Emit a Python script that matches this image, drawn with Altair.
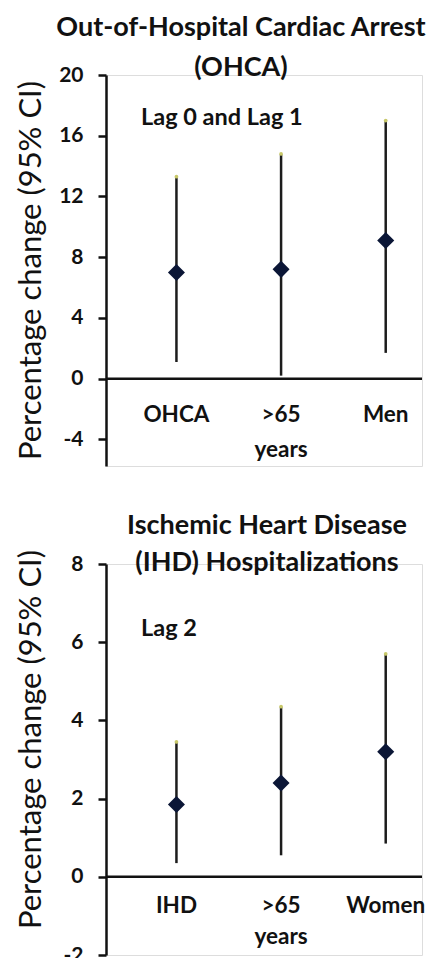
import altair as alt
import pandas as pd

# ---- data ----
top_cats = ["OHCA", ">65 years", "Men"]
top_est = [7.0, 7.2, 9.1]
top_lo = [1.1, 0.2, 1.7]
top_hi = [13.3, 14.8, 17.0]
top_ticks = [-4, 0, 4, 8, 12, 16, 20]

bot_cats = ["IHD", ">65 years", "Women"]
bot_est = [1.85, 2.4, 3.2]
bot_lo = [0.35, 0.55, 0.85]
bot_hi = [3.45, 4.35, 5.7]
bot_ticks = [-2, 0, 2, 4, 6, 8]

FONT = "Lato"
INK = "#111111"
W = 316
H = 391


def panel(cats, est, lo, hi, ticks, domain, title_lines, title_dx, title_offset,
          line_h, note, note_y, pad, align, title_y, lab_dy, lab_lh):
    df = pd.DataFrame({"cat": cats, "est": est, "lo": lo, "hi": hi})
    base = alt.Chart(df)
    x = alt.X("cat:N", sort=cats, axis=None,
              scale=alt.Scale(type="point", padding=pad, align=align))
    y_scale = alt.Scale(domain=domain, nice=False, zero=False)
    y_axis = alt.Axis(values=ticks, title="Percentage change (95% CI)",
                      titleFont=FONT, titleFontSize=31, titleFontWeight="normal",
                      titleColor=INK, titleX=-75, titleY=title_y,
                      titleBaseline="middle", titleAngle=270,
                      labelFont=FONT, labelFontSize=21, labelFontWeight="bold",
                      labelColor=INK, labelPadding=15, labelExpr="'' + datum.value",
                      tickSize=8, tickWidth=2.5, tickColor=INK,
                      domainWidth=2.5, domainColor=INK, grid=False)
    whisk = base.mark_rule(color="#1c1c1c", strokeWidth=2.5).encode(
        x=x, y=alt.Y("lo:Q", scale=y_scale, axis=y_axis), y2="hi:Q")
    caps = base.mark_point(shape="circle", filled=True, color="#c8c86a",
                           size=14, opacity=1).encode(x=x, y="hi:Q")
    dia = base.mark_point(shape="diamond", filled=True, color="#0b1636",
                          size=290, opacity=1).encode(x=x, y="est:Q")
    zero = alt.Chart(pd.DataFrame({"z": [0]})).mark_rule(
        color=INK, strokeWidth=2.5).encode(y="z:Q")
    labels = base.mark_text(font=FONT, fontSize=22.5, fontWeight="bold", color=INK,
                            baseline="top", dy=lab_dy, lineBreak=" ",
                            lineHeight=lab_lh).encode(x=x, y=alt.datum(0), text="cat:N")
    note_t = alt.Chart(pd.DataFrame({"t": [note]})).mark_text(
        font=FONT, fontSize=23.5, fontWeight="bold", color=INK, align="left",
        baseline="middle").encode(x=alt.value(35), y=alt.value(note_y), text="t:N")
    return alt.layer(whisk, caps, dia, zero, labels, note_t).properties(
        width=W, height=H,
        title=alt.TitleParams(text=title_lines, font=FONT, fontSize=27,
                              fontWeight="bold", color=INK, lineHeight=line_h,
                              anchor="middle", dx=title_dx, offset=title_offset))


top = panel(top_cats, top_est, top_lo, top_hi, top_ticks, [-5.75, 20],
            ["Out-of-Hospital Cardiac Arrest", "(OHCA)"], -23, -18, 40,
            "Lag 0 and Lag 1", 43, 0.51, 0.66, 195, 25, 35)
bot = panel(bot_cats, bot_est, bot_lo, bot_hi, bot_ticks, [-2, 8],
            ["Ischemic Heart Disease", "(IHD) Hospitalizations"], 3, -28, 37,
            "Lag 2", 65, 0.51, 0.66, 175, 18, 31)

chart = alt.vconcat(top, bot, spacing=44).properties(
    padding={"left": 6, "top": 5, "right": 0, "bottom": -8}
).configure_view(strokeWidth=0).configure(background="white")

chart.save("out.html", embed_options={"renderer": "svg", "actions": False})
